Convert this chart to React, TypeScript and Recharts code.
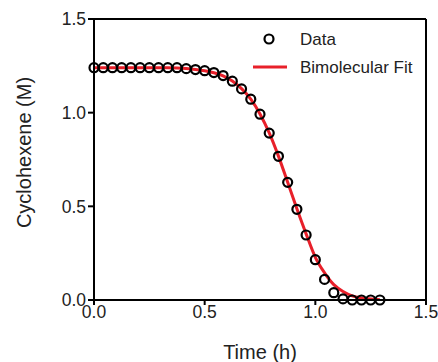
import { ComposedChart, Line, Scatter, XAxis, YAxis, ReferenceLine } from 'recharts';

// time in hours, one sample every 2.5 min
const times = [
  0, 1 / 24, 2 / 24, 3 / 24, 4 / 24, 5 / 24, 6 / 24, 7 / 24, 8 / 24, 9 / 24,
  10 / 24, 11 / 24, 12 / 24, 13 / 24, 14 / 24, 15 / 24, 16 / 24, 17 / 24, 18 / 24, 19 / 24,
  20 / 24, 21 / 24, 22 / 24, 23 / 24, 24 / 24, 25 / 24, 26 / 24, 27 / 24, 28 / 24, 29 / 24,
  30 / 24, 31 / 24,
];

// measured cyclohexene (M)
const measured = [
  1.24, 1.24, 1.24, 1.24, 1.24, 1.24, 1.24, 1.24, 1.24, 1.24,
  1.235, 1.23, 1.224, 1.214, 1.198, 1.168, 1.127, 1.072, 0.992, 0.891,
  0.767, 0.628, 0.484, 0.347, 0.215, 0.11, 0.039, 0.006, 0, 0,
  0, 0,
];

// bimolecular fit
const fitted = [
  1.24, 1.24, 1.24, 1.24, 1.24, 1.24, 1.24, 1.24, 1.24, 1.239,
  1.236, 1.231, 1.224, 1.213, 1.197, 1.169, 1.128, 1.072, 0.993, 0.892,
  0.768, 0.628, 0.487, 0.353, 0.228, 0.145, 0.082, 0.045, 0.022, 0.011,
  0.005, 0.002,
];

const xTicks = [0, 0.5, 1, 1.5];
const yTicks = [0, 0.5, 1, 1.5];

const data = times.map((t, i) => ({ t, y: measured[i], fit: fitted[i] }));

const font = 'Arial, "Liberation Sans", sans-serif';

const YTitle = (props: any) => {
  const { viewBox } = props;
  const cx = 24;
  const cy = viewBox.y + viewBox.height / 2 - 7;
  return (
    <text x={cx} y={cy} transform={`rotate(-90 ${cx} ${cy})`} textAnchor="middle"
      dominantBaseline="central" fontSize={20} fontFamily={font} fill="#222">
      Cyclohexene (M)
    </text>
  );
};

const XTitle = (props: any) => {
  const { viewBox } = props;
  const cx = viewBox.x + viewBox.width / 2;
  return (
    <text x={cx} y={352} textAnchor="middle" dominantBaseline="central"
      fontSize={20} fontFamily={font} fill="#222">
      Time (h)
    </text>
  );
};

const LegendBox = () => (
  <svg width={185} height={64} style={{ position: 'absolute', left: 250, top: 22 }}>
    <circle cx={19} cy={17} r={4.5} fill="none" stroke="#000" strokeWidth={2.2} />
    <text x={50} y={17} dominantBaseline="central" fontSize={17} fontFamily={font} fill="#222">Data</text>
    <line x1={3} x2={37} y1={45} y2={45} stroke="#e8202a" strokeWidth={3} />
    <text x={50} y={45} dominantBaseline="central" fontSize={17} fontFamily={font} fill="#222">Bimolecular Fit</text>
  </svg>
);

export default function App() {
  return (
    <div style={{ position: 'absolute', left: 0, top: 0, width: 438, height: 362, background: '#fff' }}>
      <ComposedChart width={438} height={362} data={data}
        margin={{ top: 19, right: 12, bottom: 0, left: 0 }}>
        <XAxis
          dataKey="t"
          type="number"
          domain={[0, 1.5]}
          ticks={xTicks}
          tickFormatter={(v) => v.toFixed(1)}
          height={62}
          stroke="#000"
          strokeWidth={2}
          tickSize={5}
          tickMargin={1}
          tick={{ fontSize: 17.5, fontFamily: font, fill: '#222' }}
          label={<XTitle />}
        />
        <YAxis
          type="number"
          domain={[0, 1.5]}
          ticks={yTicks}
          tickFormatter={(v) => v.toFixed(1)}
          width={94}
          stroke="#000"
          strokeWidth={2}
          tickSize={6}
          tickMargin={2}
          tick={{ fontSize: 17.5, fontFamily: font, fill: '#222' }}
          label={<YTitle />}
        />
        <ReferenceLine y={1.5} stroke="#000" strokeWidth={2} />
        <ReferenceLine x={1.5} stroke="#000" strokeWidth={2} />
        <Line dataKey="fit" type="monotone" stroke="#e8202a" strokeWidth={3}
          dot={false} isAnimationActive={false} />
        <Scatter dataKey="y" isAnimationActive={false}
          shape={(p: any) => (
            <circle cx={p.cx} cy={p.cy} r={4.5} fill="none" stroke="#000" strokeWidth={2.2} />
          )} />
      </ComposedChart>
      <LegendBox />
    </div>
  );
}
